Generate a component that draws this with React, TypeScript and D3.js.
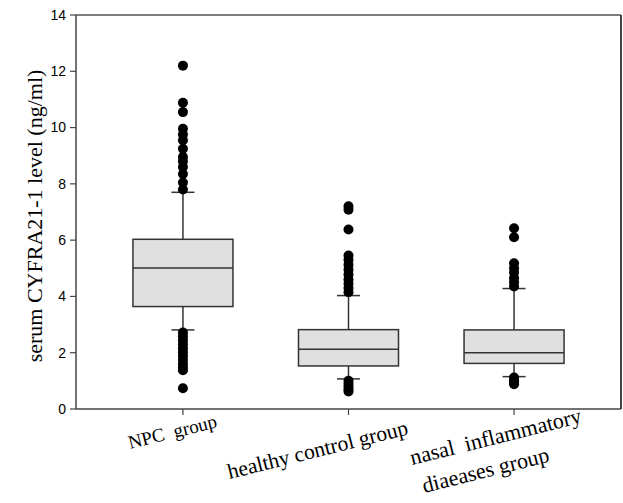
import React from "react";
import * as d3 from "d3";

const categories = ["NPC group", "healthy control group", "nasal inflammatory diaeases group"];
const labelLines = [["NPC  group"], ["healthy control group"], ["nasal  inflammatory", "diaeases group"]];
const q1 = [3.64, 1.53, 1.62];
const medians = [5.01, 2.12, 2.0];
const q3 = [6.03, 2.82, 2.81];
const whiskerLow = [2.81, 1.07, 1.15];
const whiskerHigh = [7.7, 4.03, 4.28];
const outliersNPC = [12.2, 10.88, 10.55, 9.96, 9.75, 9.55, 9.25, 8.95, 8.8, 8.6, 8.35, 8.05, 7.8,
  2.72, 2.58, 2.44, 2.3, 2.16, 2.02, 1.88, 1.74, 1.6, 1.48, 1.38, 0.74];
const outliersHealthy = [7.2, 7.08, 6.38, 5.45, 5.3, 5.12, 4.95, 4.78, 4.6, 4.45, 4.3, 4.15,
  1.0, 0.9, 0.8, 0.7, 0.62];
const outliersNasal = [6.42, 6.1, 5.18, 5.0, 4.85, 4.65, 4.5, 4.35, 1.12, 1.02, 0.95, 0.88];
const outliers = [outliersNPC, outliersHealthy, outliersNasal];
const yTicks = [0, 2, 4, 6, 8, 10, 12, 14];

const W = 623, H = 503;
const left = 76, right = 621, top = 15, bottom = 409;
const labelOffsets = [[-53, 40], [-119, 70], [-102, 56]];
const labelSizes = [19, 21.5, 22];

export default function App() {
  const x = d3.scalePoint<string>().domain(categories).range([left, right]).padding(0.646);
  const y = d3.scaleLinear().domain([0, 14]).range([bottom, top]);
  const boxW = 100;
  const capW = 23;
  const serif = "'Liberation Serif', 'Times New Roman', serif";
  const sans = "'Liberation Sans', Arial, sans-serif";
  return (
    <svg width={W} height={H} style={{ position: "absolute", left: 0, top: 0, background: "#fff" }}>
      <line x1={left} x2={right} y1={top} y2={top} stroke="#555" strokeWidth={1.5} />
      <line x1={right} x2={right} y1={top} y2={bottom} stroke="#444" strokeWidth={2} />
      <line x1={left} x2={left} y1={top} y2={bottom} stroke="#444" strokeWidth={1.5} />
      <line x1={left} x2={right} y1={bottom} y2={bottom} stroke="#444" strokeWidth={1.5} />
      {yTicks.map((t) => (
        <g key={t}>
          <line x1={left - 6} x2={left} y1={y(t)} y2={y(t)} stroke="#444" strokeWidth={1.2} />
          <text x={left - 10} y={y(t)} dy="0.35em" textAnchor="end" fontFamily={sans} fontSize={14} fill="#000">{t}</text>
        </g>
      ))}
      <text transform={`translate(42,${(top + bottom) / 2 + 4}) rotate(-90)`} textAnchor="middle" fontFamily={serif} fontSize={22} fill="#000">serum CYFRA21-1 level (ng/ml)</text>
      {categories.map((c, i) => {
        const cx = x(c)!;
        return (
          <g key={c}>
            <line x1={cx} x2={cx} y1={bottom} y2={bottom + 6} stroke="#444" strokeWidth={1.2} />
            <line x1={cx} x2={cx} y1={y(whiskerHigh[i])} y2={y(q3[i])} stroke="#333" strokeWidth={1.5} />
            <line x1={cx} x2={cx} y1={y(q1[i])} y2={y(whiskerLow[i])} stroke="#333" strokeWidth={1.5} />
            <line x1={cx - capW / 2} x2={cx + capW / 2} y1={y(whiskerHigh[i])} y2={y(whiskerHigh[i])} stroke="#333" strokeWidth={1.5} />
            <line x1={cx - capW / 2} x2={cx + capW / 2} y1={y(whiskerLow[i])} y2={y(whiskerLow[i])} stroke="#333" strokeWidth={1.5} />
            <rect x={cx - boxW / 2} y={y(q3[i])} width={boxW} height={y(q1[i]) - y(q3[i])} fill="#e0e0e0" stroke="#333" strokeWidth={1.5} />
            <line x1={cx - boxW / 2} x2={cx + boxW / 2} y1={y(medians[i])} y2={y(medians[i])} stroke="#333" strokeWidth={1.5} />
            {outliers[i].map((v, j) => (
              <circle key={j} cx={cx} cy={y(v)} r={5} fill="#000" />
            ))}
            <text transform={`translate(${cx + labelOffsets[i][0]},${bottom + labelOffsets[i][1]}) rotate(-14)`} fontFamily={serif} fontSize={labelSizes[i]} fill="#000" style={{ whiteSpace: "pre" }}>
              {labelLines[i].map((l, k) => (
                <tspan key={k} x={k === 0 ? 0 : 5} dy={k === 0 ? 0 : 30}>{l}</tspan>
              ))}
            </text>
          </g>
        );
      })}
    </svg>
  );
}
